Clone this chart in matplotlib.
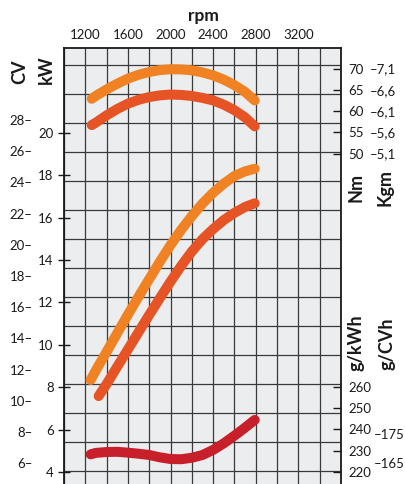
import matplotlib
matplotlib.use('Agg')
import matplotlib.pyplot as plt
import numpy as np
from matplotlib.ticker import FuncFormatter, MultipleLocator, FixedLocator

plt.rcParams['font.family'] = ['Lato', 'DejaVu Sans']

# ---------------- data ----------------
rpm_torque = [1260, 1300, 1400, 1500, 1600, 1700, 1800, 1900, 2000, 2100, 2200,
              2300, 2400, 2500, 2600, 2700, 2790]
torque_a = [62.9, 63.6, 65.1, 66.45, 67.65, 68.55, 69.2, 69.65, 69.85, 69.8, 69.6,
            69.1, 68.4, 67.4, 66.1, 64.5, 62.5]      # Nm
torque_b = [56.7, 57.3, 59.0, 60.5, 61.75, 62.65, 63.3, 63.7, 63.9, 63.8, 63.55,
            63.1, 62.5, 61.5, 60.2, 58.5, 56.4]      # Nm

rpm_power_a = [1250, 1300, 1400, 1500, 1600, 1700, 1800, 1900, 2000, 2100, 2200,
               2300, 2400, 2500, 2600, 2700, 2790]
power_a = [8.34, 8.8, 9.67, 10.55, 11.42, 12.27, 13.1, 13.92, 14.7, 15.42, 16.07,
           16.66, 17.17, 17.6, 17.96, 18.18, 18.3]   # kW
rpm_power_b = [1325, 1400, 1500, 1600, 1700, 1800, 1900, 2000, 2100, 2200,
               2300, 2400, 2500, 2600, 2700, 2790]
power_b = [7.58, 8.15, 8.97, 9.78, 10.6, 11.41, 12.2, 12.98, 13.72, 14.4,
           14.98, 15.46, 15.88, 16.22, 16.5, 16.67]  # kW

rpm_fuel = [1250, 1300, 1400, 1500, 1600, 1700, 1800, 1900, 2000, 2100, 2200,
            2300, 2400, 2500, 2600, 2700, 2790]
fuel = [228.3, 229.0, 229.4, 229.5, 229.1, 228.6, 228.0, 226.9, 226.1, 226.0, 226.7,
        228.0, 230.4, 233.5, 237.1, 240.9, 244.5]    # g/kWh

rpm_ticks = [1200, 1600, 2000, 2400, 2800, 3200]
kw_ticks = [4, 6, 8, 10, 12, 14, 16, 18, 20]
cv_ticks = [6, 8, 10, 12, 14, 16, 18, 20, 22, 24, 26, 28]
nm_ticks = [50, 55, 60, 65, 70]
gkwh_ticks = [220, 230, 240, 250, 260]
gcvh_ticks = [165, 175]

# ---------------- styles ----------------
W, H = 406, 484
C_ORANGE = '#F08224'
C_REDOR = '#E65426'
C_DRED = '#C8202B'
BG = '#ECEDEF'
GRID = '#3a3a3a'
LW = 7.2

fig = plt.figure(figsize=(W / 100, H / 100), dpi=100)
left_px, right_px, top_px = 64, 341, 48.3
rect = [left_px / W, 0, (right_px - left_px) / W, (H - top_px) / H]

def fx(px):
    return px / W

def fy(py):
    return 1 - py / H

# background grid axes
axg = fig.add_axes(rect)
axg.set_facecolor(BG)
axg.set_xlim(1000, 3600)
axg.set_ylim(-13 / 29, (H - top_px - 13) / 29)
axg.xaxis.tick_top()
axg.xaxis.set_major_locator(FixedLocator(rpm_ticks))
axg.xaxis.set_minor_locator(MultipleLocator(200))
axg.yaxis.set_major_locator(MultipleLocator(1))
axg.grid(True, which='both', color=GRID, lw=0.9)
axg.tick_params(axis='x', which='both', length=0, labelsize=9.5, pad=5, colors='#1a1a1a')
axg.tick_params(axis='y', which='both', length=0, labelleft=False, labelright=False)
for s in ['left', 'top', 'right']:
    axg.spines[s].set_color('#1a1a1a')
    axg.spines[s].set_linewidth(1.3)
axg.spines['bottom'].set_visible(False)
axg.set_axisbelow(True)

# kW axis
ax = fig.add_axes(rect, facecolor='none')
ax.set_xlim(1000, 3600)
ax.set_ylim(3.434, 23.98)
ax.set_xticks([])
ax.set_yticks(kw_ticks)
ax.tick_params(axis='y', direction='inout', length=9, width=1.0, labelsize=9.5, pad=3,
               colors='#1a1a1a')
for s in ax.spines.values():
    s.set_visible(False)
cv = ax.secondary_yaxis((30 - left_px) / (right_px - left_px) + 0.01,
                        functions=(lambda k: k * 1.35962, lambda c: c / 1.35962))
cv.set_yticks(cv_ticks)
cv.yaxis.set_major_formatter(FuncFormatter(lambda v, p: f"{v:.0f}\u2013"))
cv.tick_params(length=0, labelsize=9.5, pad=0, colors='#1a1a1a')
cv.spines['left'].set_visible(False)

ax.plot(rpm_power_a, power_a, color=C_ORANGE, lw=LW, solid_capstyle='round',
        solid_joinstyle='round')
ax.plot(rpm_power_b, power_b, color=C_REDOR, lw=LW, solid_capstyle='round',
        solid_joinstyle='round')

# Nm axis
axn = ax.twinx()
axn.set_ylim(-27.8, 74.78)
axn.set_yticks(nm_ticks)
axn.tick_params(axis='y', direction='in', length=6, width=1.0, labelsize=9.5, pad=5.5,
                colors='#1a1a1a')
for s in axn.spines.values():
    s.set_visible(False)
kg = axn.secondary_yaxis((370 - left_px) / (right_px - left_px),
                         functions=(lambda n: n / 9.81, lambda k: k * 9.81))
kg.set_yticks([n / 9.81 for n in nm_ticks])
kg.yaxis.set_major_formatter(FuncFormatter(lambda v, p: "\u2013" + f"{v:.1f}".replace('.', ',')))
kg.tick_params(length=0, labelsize=9.5, pad=0, colors='#1a1a1a')
kg.spines['right'].set_visible(False)

axn.plot(rpm_torque, torque_a, color=C_ORANGE, lw=LW, solid_capstyle='round',
         solid_joinstyle='round')
axn.plot(rpm_torque, torque_b, color=C_REDOR, lw=LW, solid_capstyle='round',
         solid_joinstyle='round')

# g/kWh axis
axf = ax.twinx()
axf.set_ylim(214.35, 419.4)
axf.set_yticks(gkwh_ticks)
axf.tick_params(axis='y', direction='in', length=6, width=1.0, labelsize=9.5, pad=5.5,
                colors='#1a1a1a')
for s in axf.spines.values():
    s.set_visible(False)
gc = axf.secondary_yaxis((374 - left_px) / (right_px - left_px),
                         functions=(lambda g: g * 0.7355, lambda c: c / 0.7355))
gc.set_yticks(gcvh_ticks)
gc.yaxis.set_major_formatter(FuncFormatter(lambda v, p: f"\u2013{v:.0f}"))
gc.tick_params(length=0, labelsize=9.5, pad=0, colors='#1a1a1a')
gc.spines['right'].set_visible(False)

axf.plot(rpm_fuel, fuel, color=C_DRED, lw=LW, solid_capstyle='round',
         solid_joinstyle='round')

# titles
fig.text(fx(203), fy(16), 'rpm', ha='center', va='center', fontsize=12.5,
         fontweight='bold', color='#1a1a1a')
fig.text(fx(20), fy(72), 'CV', ha='center', va='center', rotation=90, fontsize=13,
         fontweight='bold', color='#1a1a1a')
fig.text(fx(46), fy(70), 'kW', ha='center', va='center', rotation=90, fontsize=13,
         fontweight='bold', color='#1a1a1a')
fig.text(fx(356), fy(187), 'Nm', ha='center', va='center', rotation=90, fontsize=13,
         fontweight='bold', color='#1a1a1a')
fig.text(fx(385), fy(187), 'Kgm', ha='center', va='center', rotation=90, fontsize=13,
         fontweight='bold', color='#1a1a1a')
fig.text(fx(356), fy(343), 'g/kWh', ha='center', va='center', rotation=90, fontsize=13,
         fontweight='bold', color='#1a1a1a')
fig.text(fx(387), fy(344), 'g/CVh', ha='center', va='center', rotation=90, fontsize=13,
         fontweight='bold', color='#1a1a1a')

fig.savefig('out.png', dpi=100, facecolor='white')
